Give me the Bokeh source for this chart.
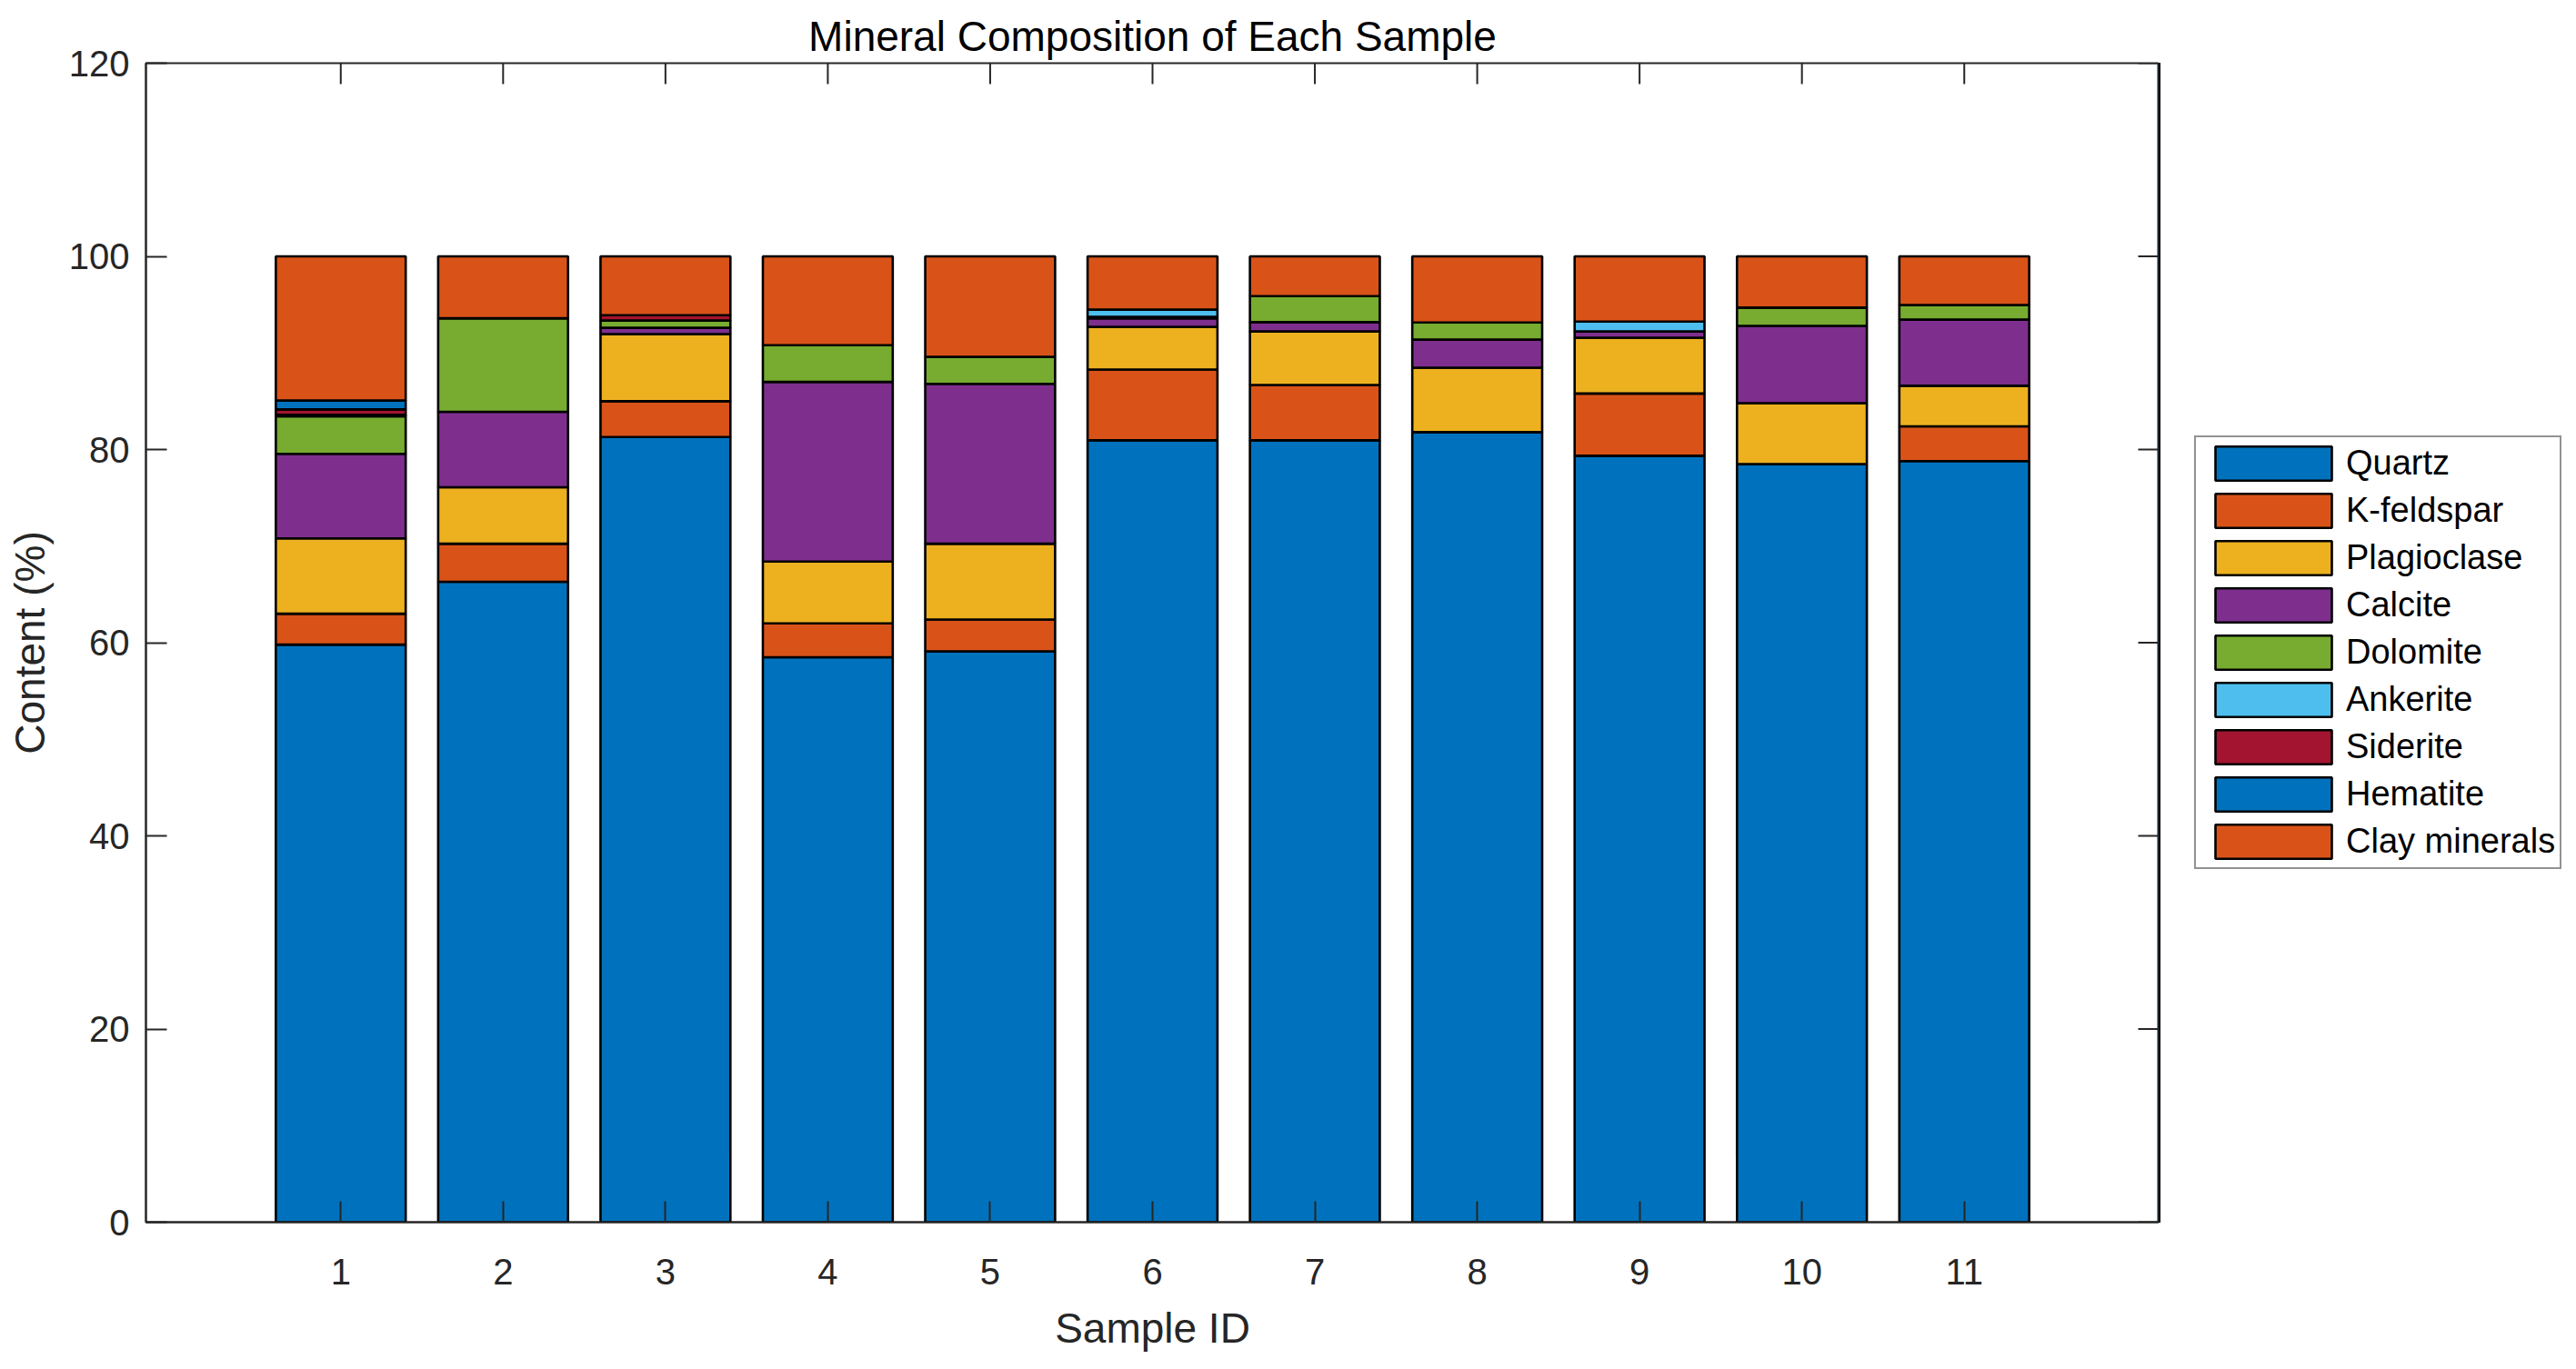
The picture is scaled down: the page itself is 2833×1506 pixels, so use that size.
import math
from bokeh.plotting import figure
from bokeh.layouts import row
from bokeh.models import (ColumnDataSource, Range1d, FixedTicker, LinearAxis, Legend)
from bokeh.embed import file_html
from bokeh.resources import INLINE

# ---- data ----
samples = [1, 2, 3, 4, 5, 6, 7, 8, 9, 10, 11]
minerals = ["Quartz", "K-feldspar", "Plagioclase", "Calcite", "Dolomite",
            "Ankerite", "Siderite", "Hematite", "Clay minerals"]
quartz      = [59.8, 66.3, 81.3, 58.5, 59.1, 80.95, 80.95, 81.8, 79.35, 78.5, 78.8]
k_feldspar  = [3.2, 3.95, 3.7, 3.5, 3.3, 7.33, 5.73, 0.0, 6.45, 0.0, 3.6]
plagioclase = [7.8, 5.85, 6.95, 6.4, 7.85, 4.41, 5.54, 6.67, 5.77, 6.3, 4.2]
calcite     = [8.75, 7.8, 0.65, 18.6, 16.55, 0.9, 0.97, 2.91, 0.65, 8.0, 6.85]
dolomite    = [3.9, 9.7, 0.75, 3.8, 2.8, 0.15, 2.69, 1.78, 0.0, 1.9, 1.5]
ankerite    = [0.15, 0.0, 0.0, 0.0, 0.0, 0.75, 0.0, 0.0, 1.03, 0.0, 0.0]
siderite    = [0.55, 0.0, 0.55, 0.0, 0.0, 0.0, 0.0, 0.0, 0.0, 0.0, 0.0]
hematite    = [0.92, 0.0, 0.0, 0.0, 0.0, 0.0, 0.0, 0.0, 0.0, 0.0, 0.0]
clay        = [14.93, 6.4, 6.1, 9.2, 10.4, 5.51, 4.12, 6.84, 6.75, 5.3, 5.05]
y_ticks = [0, 20, 40, 60, 80, 100, 120]
x_lim = (-0.2, 12.2)
y_lim = (0, 120)

colors = ["#0072BD", "#D95319", "#EDB120", "#7E2F8E", "#77AC30",
          "#4DBEEE", "#A2142F", "#0072BD", "#D95319"]

keys = ["quartz", "k_feldspar", "plagioclase", "calcite", "dolomite",
        "ankerite", "siderite", "hematite", "clay"]
source = ColumnDataSource(dict(x=samples, quartz=quartz, k_feldspar=k_feldspar,
                               plagioclase=plagioclase, calcite=calcite,
                               dolomite=dolomite, ankerite=ankerite,
                               siderite=siderite, hematite=hematite, clay=clay))

FONT = "Liberation Sans"
AX = "#262626"
TICK = 23
EDGE_W = 2.6

p = figure(frame_width=2214, frame_height=1275, output_backend="svg",
           toolbar_location=None,
           x_range=Range1d(*x_lim), y_range=Range1d(*y_lim),
           min_border_left=160, min_border_right=0, min_border_top=69,
           min_border_bottom=146, x_axis_location=None, y_axis_location=None)

p.vbar_stack(keys, x="x", width=0.8, source=source, fill_color=colors,
             line_color="black", line_width=EDGE_W)

p.xgrid.visible = False
p.ygrid.visible = False
p.outline_line_color = AX
p.outline_line_width = 2
p.background_fill_color = "white"
p.border_fill_color = "white"

def style_axis(ax, ticks):
    ax.ticker = FixedTicker(ticks=ticks)
    ax.minor_tick_line_color = None
    ax.major_tick_in = TICK
    ax.major_tick_out = 0
    ax.major_tick_line_color = AX
    ax.major_tick_line_width = 2
    ax.axis_line_color = AX
    ax.axis_line_width = 2
    ax.major_label_text_font = FONT
    ax.major_label_text_color = AX
    ax.major_label_text_font_size = "40px"
    ax.axis_label_text_font = FONT
    ax.axis_label_text_font_size = "46px"
    ax.axis_label_text_font_style = "normal"
    ax.axis_label_text_color = AX

xb = LinearAxis(axis_label="Sample ID")
style_axis(xb, samples)
xb.major_label_standoff = 40
xb.axis_label_standoff = 19
p.add_layout(xb, "below")

yl = LinearAxis(axis_label="Content (%)")
style_axis(yl, y_ticks)
yl.major_label_standoff = 18
yl.axis_label_standoff = 14
p.add_layout(yl, "left")

# mirrored inward ticks on the top and right edges of the box (clipped to frame)
p.scatter(x=samples, y=[y_lim[1]] * len(samples), marker="dash", size=2 * TICK,
          angle=math.pi / 2, line_color=AX, line_width=2)
p.scatter(x=[x_lim[1]] * len(y_ticks), y=y_ticks, marker="dash", size=2 * TICK,
          line_color=AX, line_width=2)

p.title.text = "Mineral Composition of Each Sample"
p.title.align = "center"
p.title.text_font = FONT
p.title.text_font_size = "46px"
p.title.text_font_style = "normal"
p.title.text_color = "black"
p.title.standoff = 8

# ---- legend panel (separate figure placed to the right) ----
# the same stacked bars are drawn here off-screen, only to feed the legend glyphs
lg = figure(width=443, height=1490, output_backend="svg", toolbar_location=None,
            x_range=Range1d(100, 101), y_range=Range1d(0, 1),
            min_border=0, x_axis_location=None, y_axis_location=None)
lg.xgrid.visible = False
lg.ygrid.visible = False
lg.outline_line_color = None
lg.background_fill_color = "white"
lg.border_fill_color = "white"

lg_renderers = lg.vbar_stack(keys, x="x", width=0.8, source=source,
                             fill_color=colors, line_color="black",
                             line_width=EDGE_W)

legend = Legend(items=[(name, [r]) for name, r in zip(minerals, lg_renderers)],
                location=(39, 388))
legend.label_text_font = FONT
legend.label_text_font_size = "38px"
legend.label_text_color = "black"
legend.glyph_width = 160
legend.glyph_height = 47
legend.label_height = 40
legend.spacing = 5
legend.padding = 5
legend.label_standoff = 0
legend.margin = 0
legend.border_line_color = AX
legend.border_line_width = 2
legend.background_fill_color = "white"
legend.background_fill_alpha = 1.0
lg.add_layout(legend, "center")

layout = row(p, lg, spacing=0)
open("out.html", "w").write(file_html(layout, INLINE))
